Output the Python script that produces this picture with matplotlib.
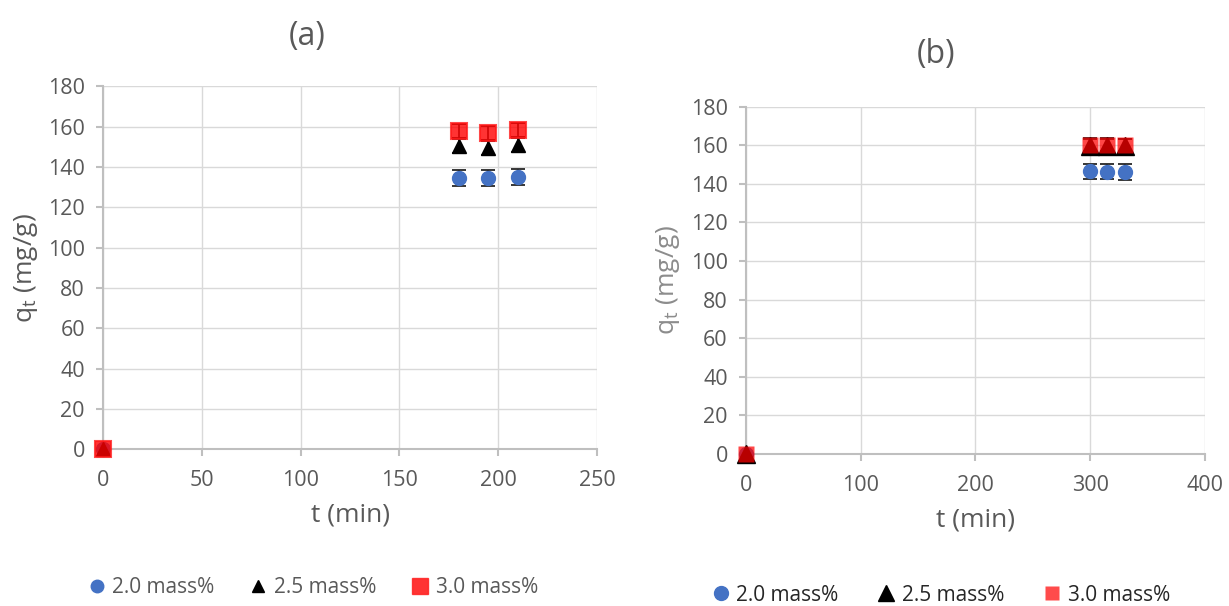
import matplotlib
matplotlib.use("Agg")
import matplotlib.pyplot as plt
from matplotlib.lines import Line2D

plt.rcParams['font.family'] = ['Open Sans', 'DejaVu Sans']

# (a) adsorption kinetics, first run
t_a = [0, 180, 195, 210]
q20_a = [0, 134.8, 134.5, 134.9]
q25_a = [0, 150.3, 149.6, 151.0]
q30_a = [0, 157.8, 157.0, 158.6]
err20_a = [0, 4.0, 4.0, 4.0]
err25_a = [0, 3.5, 3.5, 3.5]
err30_a = [0, 3.5, 3.5, 3.5]

# (b) adsorption kinetics, second run
t_b = [0, 300, 315, 330]
q20_b = [0, 146.5, 146.3, 146.2]
q25_b = [0, 159.6, 159.5, 159.4]
q30_b = [0, 160.0, 160.0, 160.0]
err20_b = [0, 4.0, 4.0, 4.0]
err25_b = [0, 4.0, 4.0, 4.0]
err30_b = [0, 3.0, 3.0, 3.0]

labels = ['2.0 mass%', '2.5 mass%', '3.0 mass%']
yticks = list(range(0, 181, 20))

GREY = '#595959'
AXIS = '#bfbfbf'
GRID = '#d9d9d9'
BLUE = '#4472c4'


def style_axes(ax, xmax, xstep, ylab_color):
    ax.set_xlim(0, xmax)
    ax.set_ylim(0, 180)
    ax.set_xticks(range(0, xmax + 1, xstep))
    ax.set_yticks(yticks)
    ax.grid(True, color=GRID, linewidth=1.0)
    ax.set_axisbelow(True)
    for s in ['top', 'right']:
        ax.spines[s].set_visible(False)
    for s in ['left', 'bottom']:
        ax.spines[s].set_color(AXIS)
        ax.spines[s].set_linewidth(1.5)
    ax.tick_params(colors=AXIS, labelcolor=GREY, labelsize=15.5, length=5,
                   width=1.5)
    ax.tick_params(axis='x', pad=10)
    ax.tick_params(axis='y', pad=8)
    ax.set_xlabel('t (min)', fontsize=19, color=GREY, labelpad=8)
    ax.set_ylabel('q$_\\mathregular{t}$ (mg/g)', fontsize=19, color=ylab_color,
                  labelpad=6)


fig = plt.figure(figsize=(12.29, 6.06), dpi=100)
ax1 = fig.add_axes([0.0838, 0.2586, 0.402, 0.5987])
ax2 = fig.add_axes([0.6069, 0.2507, 0.3736, 0.5734])

eb = dict(fmt='none', ecolor='#262626', elinewidth=1.3, capsize=5,
          capthick=1.3, clip_on=False, zorder=3)

# panel (a)
ax1.errorbar(t_a, q20_a, yerr=err20_a, **eb)
ax1.errorbar(t_a, q25_a, yerr=err25_a, **eb)
ax1.errorbar(t_a, q30_a, yerr=err30_a, **eb)
ax1.plot(t_a, q20_a, 'o', ms=10, color=BLUE, mec=BLUE, clip_on=False, zorder=4)
ax1.plot(t_a, q25_a, '^', ms=10, color='black', mec='black', clip_on=False, zorder=5)
ax1.plot(t_a, q30_a, 's', ms=11.5, color='#ff0000', alpha=0.8, mec='#ff1a1a',
         mew=1.5, clip_on=False, zorder=6)
style_axes(ax1, 250, 50, GREY)
fig.text(0.25, 0.94, '(a)', ha='center', va='center', fontsize=23, color=GREY)

# panel (b)
ax2.errorbar(t_b, q20_b, yerr=err20_b, **eb)
ax2.errorbar(t_b, q25_b, yerr=err25_b, **eb)
ax2.errorbar(t_b, q30_b, yerr=err30_b, **eb)
ax2.plot(t_b, q20_b, 'o', ms=10, color=BLUE, mec=BLUE, clip_on=False, zorder=4)
ax2.plot(t_b, q25_b, '^', ms=13, color='black', mec='black', clip_on=False, zorder=5)
ax2.plot(t_b, q30_b, 's', ms=11, color='#ff0000', alpha=0.72, mec='none',
         clip_on=False, zorder=6)
style_axes(ax2, 400, 100, '#8c8c8c')
fig.text(0.762, 0.91, '(b)', ha='center', va='center', fontsize=23, color=GREY)

# legends under each panel
handles_a = [
    Line2D([], [], ls='none', marker='o', ms=9, color=BLUE),
    Line2D([], [], ls='none', marker='^', ms=9, color='black'),
    Line2D([], [], ls='none', marker='s', ms=11, color='#ff0000', alpha=0.8,
           mec='#ff1a1a'),
]
fig.legend(handles_a, labels, loc='center', bbox_to_anchor=(0.254, 0.03),
           ncol=3, frameon=False, fontsize=15, handletextpad=0.25,
           columnspacing=1.6, labelcolor=GREY, handlelength=1.0)

handles_b = [
    Line2D([], [], ls='none', marker='o', ms=10, color=BLUE),
    Line2D([], [], ls='none', marker='^', ms=11, color='black'),
    Line2D([], [], ls='none', marker='s', ms=10, color='#ff4b4b', mec='none'),
]
fig.legend(handles_b, labels, loc='center', bbox_to_anchor=(0.765, 0.018),
           ncol=3, frameon=False, fontsize=15, handletextpad=0.25,
           columnspacing=1.8, labelcolor='#262626', handlelength=1.0)

fig.savefig('out.png', dpi=100)
